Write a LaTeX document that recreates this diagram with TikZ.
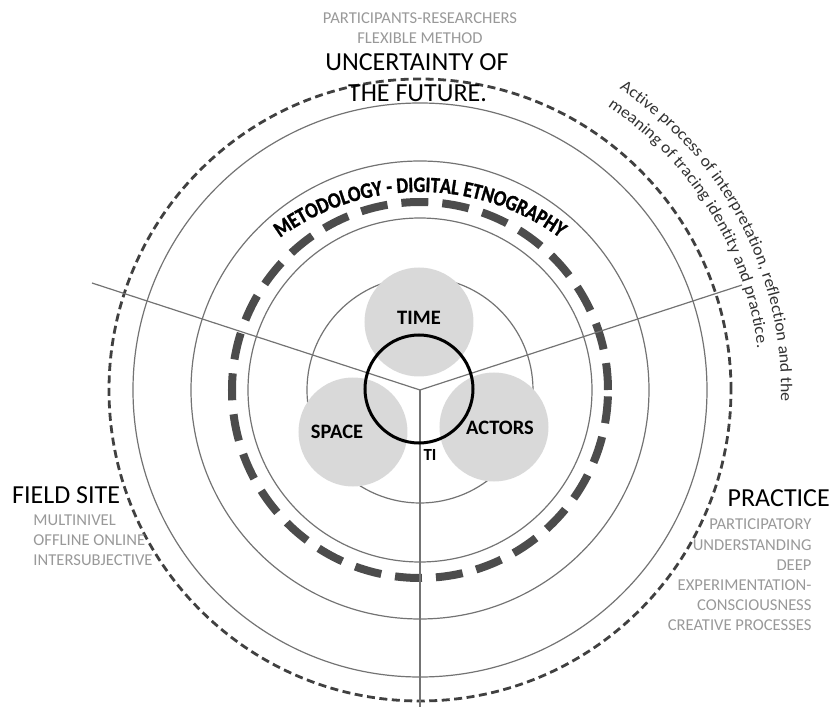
\documentclass[tikz,border=0pt]{standalone}
\usepackage{fontspec}
\setmainfont{Carlito}
\newfontfamily\arcfont[FakeStretch=0.84, FakeBold=1.2]{Carlito}
\newfontfamily\notefont[FakeStretch=1.08]{Carlito}
\usetikzlibrary{decorations.text}

\begin{document}
\begin{tikzpicture}[x=1pt, y=1pt,
  ring/.style={draw=black!55, line width=1.2pt},
  spoke/.style={draw=black!55, line width=1.2pt},
  bubble/.style={circle, fill=black!15, minimum size=109pt, inner sep=0pt},
  lbl/.style={font=\bfseries\fontsize{20.5}{20.5}\selectfont, inner sep=0pt},
  head/.style={font=\fontsize{26}{26}\selectfont, inner sep=0pt},
  sub/.style={font=\fontsize{16.6}{16.6}\selectfont, text=black!40, inner sep=0pt}]
  \useasboundingbox (-420,-317) rectangle (413,390);

  % Draw the thin rings
  \draw[ring] (0,0) circle (287);
  \draw[ring] (0,0) circle (229);
  \draw[ring] (0,0) circle (172);
  \draw[ring] (0,0) circle (113);

  % Dashed rings
  \draw[black!75, line width=2.8pt, dash pattern=on 8pt off 4.5pt] (0,0) circle (311);
  \draw[black!70, line width=8pt, dash pattern=on 27pt off 14pt] (0,0) circle (188);

  % Spokes
  \coordinate (hub) at (0,0);
  \coordinate (fieldend) at (-328,107);
  \coordinate (practend) at (322,105);
  \coordinate (bottomend) at (0,-317);
  \draw[spoke] (hub) -- (fieldend);
  \draw[spoke] (hub) -- (practend);
  \draw[spoke] (hub) -- (bottomend);

  % Three grey circles and the black one
  \node[bubble] (timec) at (-1,68) {};
  \node[bubble] (spacec) at (-67,-42) {};
  \node[bubble] (actorsc) at (74,-37) {};
  \node[circle, draw=black, line width=3pt, minimum size=108pt, inner sep=0pt] (core) at (-1,1) {};

  \node[lbl] (time) at (-1,72) {TIME};
  \node[lbl] (space) at (-83,-42) {SPACE};
  \node[lbl] (actors) at (80,-38) {ACTORS};
  \node[lbl, font=\bfseries\fontsize{17}{17}\selectfont] (ti) at (10,-65) {TI};

  % Text on the rings
  \path[decorate, decoration={text along path, text align=center,
    text={|\arcfont\bfseries\fontsize{22}{22}\selectfont|METODOLOGY - DIGITAL ETNOGRAPHY}}]
    (0,-38) ++(150:236) arc[start angle=150, end angle=30, radius=236];
  \path[decorate, decoration={text along path,
    text={|\notefont\fontsize{16.5}{16.5}\selectfont\color{black!80}|Active process of interpretation, reflection and the}}]
    (56.5:361) arc[start angle=56.5, end angle=-25, radius=361];
  \path[decorate, decoration={text along path,
    text={|\notefont\fontsize{16.5}{16.5}\selectfont\color{black!80}|meaning of tracing identity and practice.}}]
    (56.5:340) arc[start angle=56.5, end angle=-15, radius=340];

  % Top
  \node[sub, anchor=base] (partres) at (0,366.7) {PARTICIPANTS-RESEARCHERS};
  \node[sub, anchor=base] (flexible) at (0,346) {FLEXIBLE METHOD};
  \node[head, anchor=base] (title1) at (-3,319.7) {UNCERTAINTY OF};
  \node[head, anchor=base] (title2) at (-2.5,288.2) {THE FUTURE.};

  % Field site
  \node[head, anchor=base west] (field) at (-408,-113.3) {FIELD SITE};
  \node[sub, anchor=base west] (multi) at (-386.7,-135.7) {MULTINIVEL};
  \node[sub, anchor=base west] (offon) at (-386.7,-155.7) {OFFLINE ONLINE};
  \node[sub, anchor=base west] (inter) at (-386.7,-175.3) {INTERSUBJECTIVE};

  % Practice
  \node[head, anchor=base east] (practice) at (410,-116) {PRACTICE};
  \node[sub, anchor=base east] (partic) at (391.7,-139.3) {PARTICIPATORY};
  \node[sub, anchor=base east] (underst) at (391.7,-160) {UNDERSTANDING};
  \node[sub, anchor=base east] (deep) at (391.7,-180) {DEEP};
  \node[sub, anchor=base east] (experim) at (391.7,-200.7) {EXPERIMENTATION-};
  \node[sub, anchor=base east] (consc) at (391.7,-220.7) {CONSCIOUSNESS};
  \node[sub, anchor=base east] (creative) at (391.7,-240.7) {CREATIVE PROCESSES};
\end{tikzpicture}
\end{document}
